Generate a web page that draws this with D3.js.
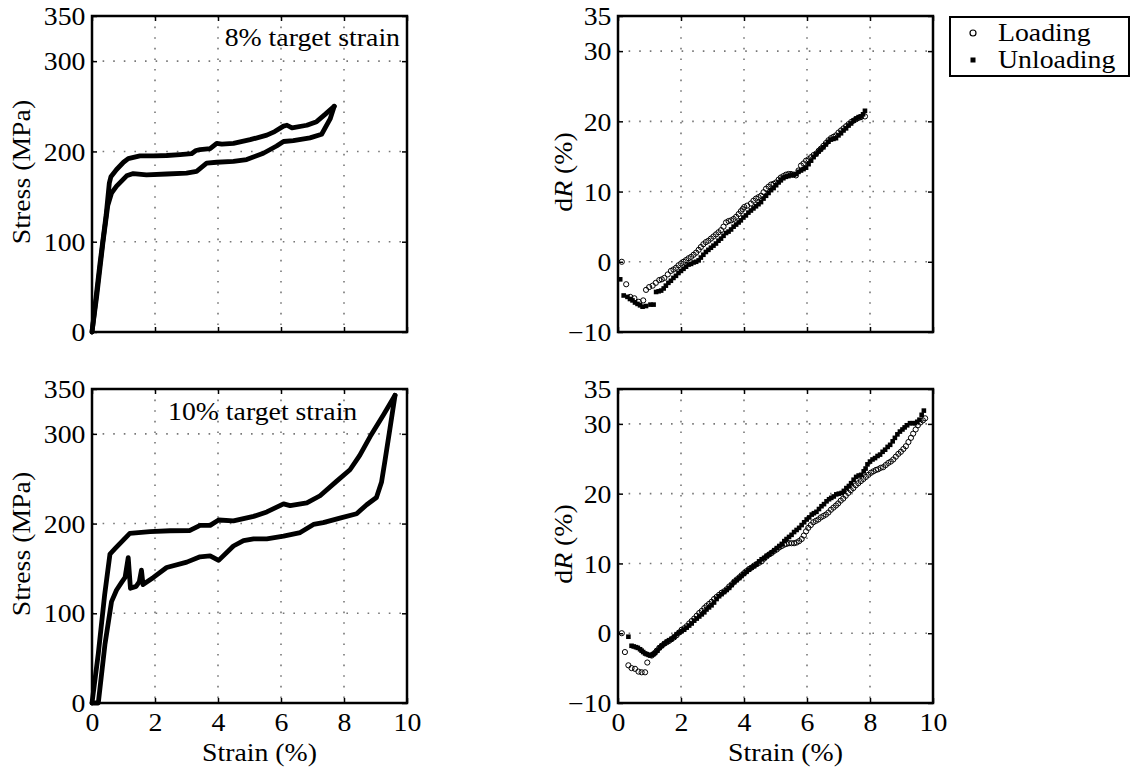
<!DOCTYPE html>
<html>
<head>
<meta charset="utf-8">
<script src="https://cdn.jsdelivr.net/npm/d3@7"></script>
<style>
  body { margin: 0; background: #fff; }
  text { font-family: "Liberation Serif", "Times New Roman", serif; fill: #000; }
</style>
</head>
<body>
<div id="chart"></div>
<script>
// ---- data ----
const strainTicks = [0, 2, 4, 6, 8, 10];
const strainGrid = [2, 4, 6, 8];
const stressTicks = [0, 100, 200, 300, 350];
const stressGrid = [100, 200, 300];
const dRTicks = [-10, 0, 10, 20, 30, 35];
const dRGrid = [0, 10, 20, 30];
const legendLabels = ["Loading", "Unloading"];

// [strain %, stress MPa]
const stress8Loading = [[0,0],[0.25,75],[0.45,130],[0.55,165],[0.6,172],[0.78,180],[1.0,188],[1.15,192],[1.52,195],[2.0,195],[2.37,195.5],[2.8,196.5],[3.16,197.5],[3.3,201],[3.43,202],[3.75,203],[3.96,209],[4.12,208],[4.49,209],[5.02,213],[5.55,218],[5.8,222],[6.08,228],[6.19,229],[6.35,226],[6.82,229],[7.13,233],[7.4,241],[7.69,250]];
const stress8Unloading = [[7.69,250],[7.56,236],[7.29,219],[6.92,215],[6.39,212],[6.08,211],[5.86,206],[5.44,198],[4.91,191],[4.49,189],[3.96,188],[3.64,187],[3.32,178],[3.0,176],[2.37,175],[1.73,174],[1.31,175.5],[1.1,173],[0.78,161.5],[0.62,154],[0.5,140],[0.35,100],[0.15,40],[0,0]];
const stress10Loading = [[0,0],[0.2,55],[0.4,120],[0.57,166],[0.73,172],[1.2,189],[1.84,191],[2.48,192],[3.11,192.3],[3.43,198],[3.75,198],[4.02,204],[4.49,203],[5.13,208],[5.55,213],[6.08,222],[6.29,220],[6.82,223],[7.24,231],[7.76,247],[8.19,260],[8.5,276],[8.83,297],[9.25,321],[9.62,343]];
const stress10Unloading = [[9.62,343],[9.46,306],[9.3,270],[9.19,246],[9.03,229],[8.72,221],[8.4,211],[7.87,206],[7.34,201],[7.03,199],[6.61,190],[6.08,186],[5.55,183],[5.13,183],[4.81,181],[4.49,175],[4.02,159],[3.75,164],[3.43,163],[3.01,157],[2.37,151],[1.95,140],[1.62,132],[1.57,148],[1.5,135],[1.4,130],[1.22,128],[1.15,162],[1.05,140],[0.95,135],[0.78,126],[0.62,113],[0.41,65],[0.2,0],[0,0]];

// [strain %, dR %]
const dR8Loading = [[0.12,0],[0.26,-3.2],[0.39,-5.0],[0.52,-5.2],[0.66,-5.7],[0.8,-5.5],[0.89,-4.0],[0.99,-3.6],[1.1,-3.4],[1.2,-3.0],[1.31,-2.6],[1.39,-2.5],[1.47,-2.3],[1.58,-1.8],[1.68,-1.3],[1.76,-1.1],[1.84,-0.86],[1.92,-0.5],[2.0,-0.24],[2.08,0.0],[2.16,0.24],[2.24,0.5],[2.32,0.7],[2.4,1.0],[2.48,1.3],[2.56,1.7],[2.63,2.1],[2.71,2.5],[2.79,2.8],[2.87,3.0],[2.95,3.3],[3.03,3.6],[3.11,3.9],[3.19,4.2],[3.27,4.5],[3.35,5.0],[3.43,5.6],[3.51,5.8],[3.59,5.9],[3.67,6.1],[3.75,6.4],[3.83,6.8],[3.9,7.2],[3.96,7.5],[4.01,7.8],[4.1,8.0],[4.22,8.3],[4.3,8.7],[4.38,9.0],[4.46,9.2],[4.54,9.4],[4.62,9.9],[4.7,10.4],[4.78,10.7],[4.86,11.0],[4.94,11.1],[5.02,11.3],[5.1,11.7],[5.17,12.0],[5.25,12.2],[5.33,12.4],[5.41,12.5],[5.49,12.5],[5.57,12.4],[5.65,12.3],[5.73,13.0],[5.81,13.7],[5.89,14.0],[5.97,14.4],[6.05,14.6],[6.13,14.9],[6.21,15.2],[6.29,15.4],[6.37,15.8],[6.44,16.1],[6.52,16.5],[6.6,16.9],[6.68,17.3],[6.76,17.6],[6.84,17.8],[6.92,18.0],[7.0,18.4],[7.08,18.7],[7.16,19.0],[7.24,19.3],[7.32,19.6],[7.4,19.9],[7.48,20.1],[7.56,20.3],[7.64,20.5],[7.71,20.6],[7.84,20.7]];
const dR8Unloading = [[0.07,-2.5],[0.18,-4.8],[0.3,-5.0],[0.38,-5.3],[0.46,-5.5],[0.54,-5.8],[0.62,-6.0],[0.7,-6.2],[0.78,-6.4],[0.89,-6.3],[1.03,-6.1],[1.13,-6.1],[1.21,-4.3],[1.29,-4.2],[1.37,-4.1],[1.45,-3.8],[1.52,-3.4],[1.6,-3.0],[1.68,-2.7],[1.76,-2.3],[1.84,-2.0],[1.92,-1.6],[2.0,-1.3],[2.08,-1.0],[2.16,-0.7],[2.24,-0.4],[2.32,-0.3],[2.4,-0.1],[2.48,0.0],[2.56,0.2],[2.63,0.6],[2.71,1.0],[2.79,1.4],[2.87,1.7],[2.95,2.0],[3.03,2.3],[3.11,2.6],[3.19,3.0],[3.27,3.3],[3.35,3.7],[3.43,4.1],[3.51,4.3],[3.59,4.6],[3.67,5.0],[3.75,5.3],[3.83,5.6],[3.9,5.9],[3.98,6.3],[4.06,6.6],[4.14,7.0],[4.22,7.3],[4.3,7.6],[4.38,7.9],[4.46,8.2],[4.54,8.5],[4.62,9.0],[4.7,9.4],[4.78,9.8],[4.86,10.2],[4.94,10.5],[5.02,10.9],[5.1,11.3],[5.17,11.6],[5.25,11.9],[5.33,12.1],[5.41,12.2],[5.49,12.3],[5.57,12.4],[5.65,12.5],[5.73,12.8],[5.81,13.0],[5.89,13.2],[5.97,13.4],[6.05,13.9],[6.13,14.4],[6.21,14.9],[6.29,15.3],[6.37,15.7],[6.44,16.0],[6.52,16.3],[6.6,16.7],[6.68,17.1],[6.76,17.4],[6.84,17.5],[6.92,17.6],[7.0,18.0],[7.08,18.3],[7.16,18.7],[7.24,19.0],[7.32,19.4],[7.4,19.7],[7.48,20.1],[7.56,20.4],[7.64,20.6],[7.71,20.7],[7.78,21.0],[7.84,21.5]];
const dR10Loading = [[0.12,0],[0.22,-2.7],[0.33,-4.6],[0.43,-5.0],[0.54,-5.1],[0.65,-5.5],[0.75,-5.6],[0.86,-5.6],[0.93,-4.2],[1.07,-3.2],[1.15,-2.9],[1.23,-2.5],[1.31,-2.1],[1.39,-1.8],[1.47,-1.5],[1.55,-1.3],[1.62,-1.1],[1.7,-0.86],[1.78,-0.6],[1.86,-0.29],[1.94,0.1],[2.02,0.5],[2.1,0.7],[2.18,1.0],[2.26,1.4],[2.34,1.75],[2.42,2.1],[2.5,2.5],[2.58,2.9],[2.66,3.2],[2.74,3.6],[2.81,3.9],[2.89,4.2],[2.97,4.5],[3.05,4.9],[3.13,5.2],[3.21,5.5],[3.29,5.8],[3.37,6.0],[3.45,6.3],[3.53,6.7],[3.61,7.0],[3.69,7.4],[3.77,7.7],[3.85,8.0],[3.92,8.3],[4.0,8.6],[4.08,8.9],[4.16,9.2],[4.24,9.4],[4.32,9.7],[4.4,9.9],[4.48,10.1],[4.56,10.3],[4.64,10.7],[4.72,11.0],[4.8,11.3],[4.88,11.5],[4.96,11.8],[5.04,12.0],[5.12,12.3],[5.2,12.5],[5.28,12.7],[5.35,12.8],[5.43,12.9],[5.51,12.9],[5.59,12.9],[5.67,13.0],[5.75,13.2],[5.83,13.5],[5.9,14.0],[5.97,14.6],[6.04,15.1],[6.12,15.5],[6.2,15.9],[6.28,16.1],[6.36,16.3],[6.44,16.6],[6.52,16.8],[6.6,17.0],[6.68,17.3],[6.76,17.7],[6.84,18.0],[6.92,18.3],[6.99,18.6],[7.07,19.0],[7.15,19.3],[7.23,19.7],[7.31,20.1],[7.39,20.5],[7.47,20.8],[7.55,21.2],[7.63,21.5],[7.71,21.8],[7.79,22.1],[7.87,22.4],[7.95,22.7],[8.03,23.0],[8.11,23.2],[8.19,23.4],[8.26,23.5],[8.34,23.7],[8.42,23.8],[8.5,24.1],[8.58,24.4],[8.66,24.6],[8.74,24.9],[8.82,25.3],[8.9,25.7],[8.98,26.0],[9.06,26.4],[9.14,26.8],[9.22,27.4],[9.3,28.0],[9.37,28.6],[9.45,29.2],[9.52,29.8],[9.6,30.2],[9.68,30.5],[9.75,30.8]];
const dR10Unloading = [[0.33,-0.5],[0.43,-1.8],[0.5,-1.9],[0.57,-2.0],[0.63,-2.1],[0.7,-2.3],[0.75,-2.5],[0.8,-2.7],[0.86,-2.9],[0.91,-3.0],[0.97,-3.1],[1.02,-3.2],[1.07,-3.1],[1.12,-3.0],[1.18,-2.8],[1.25,-2.5],[1.32,-2.1],[1.39,-1.8],[1.47,-1.5],[1.55,-1.2],[1.62,-1.0],[1.7,-0.8],[1.78,-0.5],[1.86,-0.14],[1.94,0.1],[2.02,0.3],[2.1,0.5],[2.18,0.8],[2.26,1.1],[2.34,1.4],[2.42,1.8],[2.5,2.1],[2.58,2.4],[2.66,2.7],[2.74,3.0],[2.81,3.4],[2.89,3.7],[2.97,4.0],[3.05,4.4],[3.13,4.9],[3.21,5.3],[3.29,5.6],[3.37,5.9],[3.45,6.2],[3.53,6.5],[3.61,6.9],[3.69,7.3],[3.77,7.6],[3.85,7.9],[3.92,8.2],[4.0,8.5],[4.08,8.8],[4.16,9.1],[4.24,9.4],[4.32,9.6],[4.4,9.9],[4.48,10.3],[4.56,10.6],[4.64,10.8],[4.72,11.1],[4.8,11.3],[4.88,11.6],[4.96,11.9],[5.04,12.2],[5.12,12.5],[5.2,12.8],[5.28,13.2],[5.35,13.5],[5.43,13.8],[5.51,14.1],[5.59,14.5],[5.67,14.8],[5.75,15.1],[5.83,15.5],[5.91,15.9],[5.99,16.3],[6.07,16.6],[6.15,17.0],[6.22,17.2],[6.3,17.4],[6.38,17.8],[6.46,18.2],[6.54,18.5],[6.62,18.9],[6.7,19.2],[6.77,19.4],[6.85,19.6],[6.93,19.9],[7.01,20.0],[7.1,20.1],[7.17,20.4],[7.25,20.8],[7.33,21.1],[7.4,21.5],[7.48,22.0],[7.56,22.4],[7.64,22.6],[7.72,22.7],[7.8,23.2],[7.86,23.6],[7.92,24.2],[8.0,24.6],[8.08,24.9],[8.16,25.1],[8.24,25.4],[8.32,25.6],[8.4,26.0],[8.48,26.3],[8.56,26.7],[8.64,27.0],[8.72,27.5],[8.79,28.0],[8.87,28.5],[8.95,28.9],[9.03,29.2],[9.1,29.5],[9.18,29.8],[9.27,30.1],[9.35,30.1],[9.43,30.1],[9.5,30.3],[9.57,30.6],[9.64,31.3],[9.71,31.9]];

// ---- layout ----
const width = 1131, height = 771;
const FS = 25.5, SX = 1.09;   // serif text is a little wider than Times in the figure
const leftX = [92, 407], rightX = [618, 933];
const topY = [16, 332], botY = [389, 703];

const svg = d3.select("#chart").append("svg")
  .attr("width", width).attr("height", height);

function stretch(sel) {
  sel.each(function() {
    const t = d3.select(this);
    const old = t.attr("transform");
    t.attr("transform", (old ? old + " " : "") + `scale(${SX},1)`);
  });
}

function panel(xr, yr, yDomain, yTicks, yGrid, showX) {
  const x = d3.scaleLinear().domain([0, 10]).range(xr);
  const y = d3.scaleLinear().domain(yDomain).range([yr[1], yr[0]]);
  const g = svg.append("g");

  // dotted grid
  g.append("g").selectAll("line").data(strainGrid).join("line")
    .attr("x1", d => x(d)).attr("x2", d => x(d))
    .attr("y1", yr[0]).attr("y2", yr[1]);
  g.append("g").selectAll("line").data(yGrid).join("line")
    .attr("x1", xr[0]).attr("x2", xr[1])
    .attr("y1", d => y(d)).attr("y2", d => y(d));
  g.selectAll("line")
    .attr("stroke", "#777").attr("stroke-width", 1.6)
    .attr("stroke-dasharray", "1.6,9");

  const noLab = () => "";
  const axB = g.append("g").attr("transform", `translate(0,${yr[1]})`)
    .call(d3.axisBottom(x).tickValues(strainTicks).tickSize(-5).tickPadding(10)
      .tickFormat(showX ? d3.format("d") : noLab));
  const axT = g.append("g").attr("transform", `translate(0,${yr[0]})`)
    .call(d3.axisTop(x).tickValues(strainTicks).tickSize(-5).tickFormat(noLab));
  const axL = g.append("g").attr("transform", `translate(${xr[0]},0)`)
    .call(d3.axisLeft(y).tickValues(yTicks).tickSize(-5).tickPadding(6)
      .tickFormat(d3.format("d")));
  const axR = g.append("g").attr("transform", `translate(${xr[1]},0)`)
    .call(d3.axisRight(y).tickValues(yTicks).tickSize(-5).tickFormat(noLab));

  [axB, axT, axL, axR].forEach(a => {
    a.select(".domain").remove();
    a.selectAll(".tick line").attr("stroke", "#000").attr("stroke-width", 1.5);
    a.selectAll(".tick text").attr("font-size", FS)
      .style("font-family", '"Liberation Serif", "Times New Roman", serif').call(stretch);
  });
  axL.selectAll(".tick text").attr("dy", "0.34em");

  g.append("rect")
    .attr("x", xr[0]).attr("y", yr[0])
    .attr("width", xr[1] - xr[0]).attr("height", yr[1] - yr[0])
    .attr("fill", "none").attr("stroke", "#000").attr("stroke-width", 2.5);

  return { g, x, y };
}

function stressPanel(yr, loading, unloading, showX) {
  const p = panel(leftX, yr, [0, 350], stressTicks, stressGrid, showX);
  const line = d3.line().x(d => p.x(d[0])).y(d => p.y(d[1]));
  [loading, unloading].forEach(s => {
    p.g.append("path").attr("d", line(s))
      .attr("fill", "none").attr("stroke", "#000").attr("stroke-width", 4.8)
      .attr("stroke-linejoin", "round").attr("stroke-linecap", "round");
  });
  return p;
}

function dRPanel(yr, loading, unloading, showX) {
  const p = panel(rightX, yr, [-10, 35], dRTicks, dRGrid, showX);
  p.g.append("g").selectAll("circle").data(loading).join("circle")
    .attr("cx", d => p.x(d[0])).attr("cy", d => p.y(d[1]))
    .attr("r", 2.6).attr("fill", "none").attr("stroke", "#000").attr("stroke-width", 1);
  p.g.append("g").selectAll("rect").data(unloading).join("rect")
    .attr("x", d => p.x(d[0]) - 2.3).attr("y", d => p.y(d[1]) - 2.3)
    .attr("width", 4.6).attr("height", 4.6).attr("fill", "#000");
  return p;
}

stressPanel(topY, stress8Loading, stress8Unloading, false);
stressPanel(botY, stress10Loading, stress10Unloading, true);
dRPanel(topY, dR8Loading, dR8Unloading, false);
dRPanel(botY, dR10Loading, dR10Unloading, true);

// ---- labels ----
function label(txt, x, y, anchor, rot) {
  const t = svg.append("text")
    .attr("transform", `translate(${x},${y})` + (rot ? " rotate(-90)" : "") + ` scale(${SX},1)`)
    .attr("text-anchor", anchor).attr("font-size", FS);
  return t.text(txt);
}

label("8% target strain", 400, 46, "end");
label("10% target strain", 168, 420, "start");

[topY, botY].forEach(yr => {
  const cy = (yr[0] + yr[1]) / 2 - 2;
  label("Stress (MPa)", 30, cy, "middle", true);
  const t = svg.append("text")
    .attr("transform", `translate(572,${cy}) rotate(-90) scale(${SX},1)`)
    .attr("text-anchor", "middle").attr("font-size", FS);
  t.append("tspan").text("d");
  t.append("tspan").attr("font-style", "italic").text("R");
  t.append("tspan").text(" (%)");
});

[leftX, rightX].forEach(xr => {
  label("Strain (%)", (xr[0] + xr[1]) / 2 + 10, 761, "middle");
});

// ---- legend ----
const lg = svg.append("g");
lg.append("rect").attr("x", 950).attr("y", 17).attr("width", 179).attr("height", 59)
  .attr("fill", "#fff").attr("stroke", "#000").attr("stroke-width", 2);
lg.append("circle").attr("cx", 973).attr("cy", 33).attr("r", 3)
  .attr("fill", "none").attr("stroke", "#000").attr("stroke-width", 1.2);
lg.append("rect").attr("x", 970.5).attr("y", 57.5).attr("width", 5).attr("height", 5).attr("fill", "#000");
legendLabels.forEach((s, i) => label(s, 998, 41 + i * 27, "start"));
</script>
</body>
</html>
